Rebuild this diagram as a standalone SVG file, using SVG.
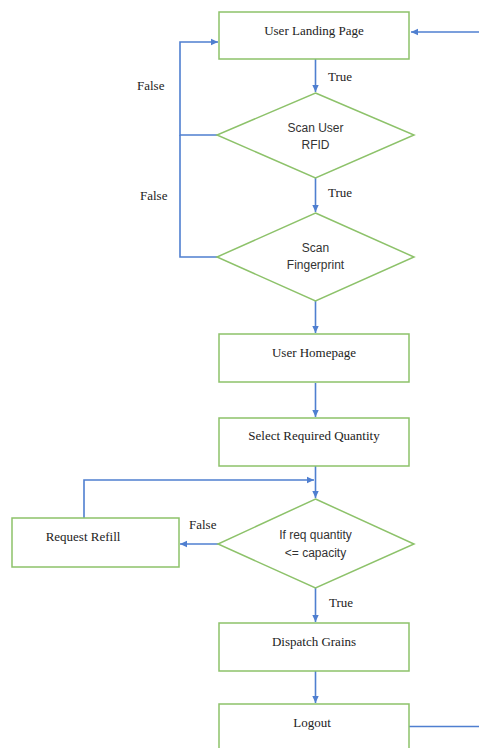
<svg xmlns="http://www.w3.org/2000/svg" width="479" height="748" viewBox="0 0 479 748">
<style>
.box{fill:#fff;stroke:#8DC26A;stroke-width:1.5}
.dia{fill:#fff;stroke:#8DC26A;stroke-width:1.5}
.ser{font-family:"Liberation Serif","Times New Roman",serif;font-size:13px;fill:#222}
.sans{font-family:"Liberation Sans",Arial,sans-serif;font-size:12px;fill:#333}
.ln{fill:none;stroke:#4F7FD0;stroke-width:1.6}
</style>
<defs>
<marker id="ah" markerUnits="userSpaceOnUse" markerWidth="8" markerHeight="8" refX="7" refY="4" orient="auto">
<path d="M0,0.8 L7,4 L0,7.2 Z" fill="#4F7FD0"/>
</marker>
</defs>
<rect width="479" height="748" fill="#fff"/>
<g id="connectors">
<path class="ln" d="M479,32 H411" marker-end="url(#ah)"/>
<path class="ln" d="M315.5,59 V92" marker-end="url(#ah)"/>
<path class="ln" d="M217,135 H180 V42 H218" marker-end="url(#ah)"/>
<path class="ln" d="M217,257 H180 V135"/>
<path class="ln" d="M315.5,178 V212" marker-end="url(#ah)"/>
<path class="ln" d="M315.5,301 V333" marker-end="url(#ah)"/>
<path class="ln" d="M315.5,383 V417" marker-end="url(#ah)"/>
<path class="ln" d="M315.5,466 V498" marker-end="url(#ah)"/>
<path class="ln" d="M84,518 V480 H314" marker-end="url(#ah)"/>
<path class="ln" d="M218,544 H180" marker-end="url(#ah)"/>
<path class="ln" d="M315.5,588 V622" marker-end="url(#ah)"/>
<path class="ln" d="M315.5,671 V703" marker-end="url(#ah)"/>
<path class="ln" d="M406,726.5 H479"/>
<text class="ser" x="328" y="81">True</text>
<text class="ser" x="137" y="90">False</text>
<text class="ser" x="328" y="197">True</text>
<text class="ser" x="140" y="200">False</text>
<text class="ser" x="189" y="529">False</text>
<text class="ser" x="329" y="607">True</text>
</g>
<g id="landing">
<rect class="box" x="219" y="12" width="190" height="47"/>
<text class="ser" x="314" y="35" text-anchor="middle">User Landing Page</text>
</g>
<g id="rfid">
<polygon class="dia" points="315.5,93 414,135 315.5,178 217,135"/>
<text class="sans" x="315.5" y="132" text-anchor="middle">Scan User</text>
<text class="sans" x="315.5" y="149" text-anchor="middle">RFID</text>
</g>
<g id="fingerprint">
<polygon class="dia" points="315.5,213 414,257 315.5,301 217,257"/>
<text class="sans" x="315.5" y="252" text-anchor="middle">Scan</text>
<text class="sans" x="315.5" y="269" text-anchor="middle">Fingerprint</text>
</g>
<g id="homepage">
<rect class="box" x="219" y="334" width="190" height="48"/>
<text class="ser" x="314" y="357" text-anchor="middle">User Homepage</text>
</g>
<g id="select">
<rect class="box" x="219" y="418" width="190" height="48"/>
<text class="ser" x="314" y="440" text-anchor="middle">Select Required Quantity</text>
</g>
<g id="check">
<polygon class="dia" points="315.5,499 414,544 315.5,588 218,544"/>
<text class="sans" x="315.5" y="539" text-anchor="middle">If req quantity</text>
<text class="sans" x="315.5" y="557" text-anchor="middle">&lt;= capacity</text>
</g>
<g id="refill">
<rect class="box" x="12" y="518" width="167" height="49"/>
<text class="ser" x="83" y="541" text-anchor="middle">Request Refill</text>
</g>
<g id="dispatch">
<rect class="box" x="219" y="623" width="190" height="48"/>
<text class="ser" x="314" y="646" text-anchor="middle">Dispatch Grains</text>
</g>
<g id="logout">
<rect class="box" x="219" y="704" width="190" height="60"/>
<text class="ser" x="312" y="727" text-anchor="middle">Logout</text>
</g>
</svg>
